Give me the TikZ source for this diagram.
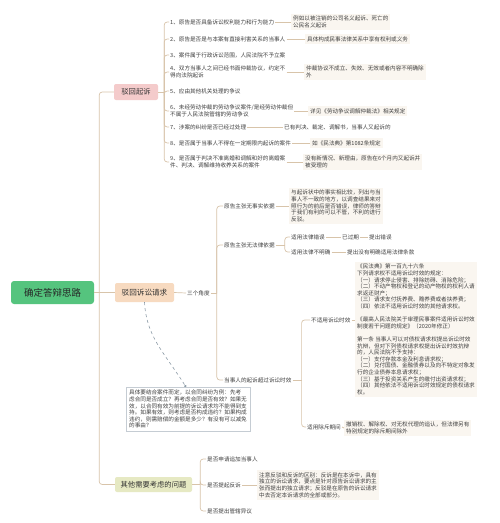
\documentclass[tikz,border=0pt]{standalone}
\usepackage{fontspec}
\setmainfont{Noto Sans CJK SC}
\usetikzlibrary{arrows.meta}
\definecolor{ln}{HTML}{D8C4AA}
\definecolor{txtc}{HTML}{404040}
\definecolor{detf}{HTML}{FAF6F0}
\definecolor{rootg}{HTML}{55C47E}
\definecolor{pinkf}{HTML}{F4CBCB}
\definecolor{peachf}{HTML}{F7DAC0}
\definecolor{olivef}{HTML}{E6E9C3}
\definecolor{notel}{HTML}{C5CCD3}
\definecolor{dashc}{HTML}{8C9BA6}
\begin{document}
\begin{tikzpicture}[x=1pt,y=-1pt,
 base/.style={inner sep=1pt, font=\fontsize{5.6}{6.6}\selectfont, text=txtc, align=left, anchor=west},
 det/.style={base, fill=detf, inner sep=2pt},
 conn/.style={draw=ln, line width=0.7pt, rounded corners=3pt},
 mainbox/.style={rounded corners=2pt, inner xsep=3pt, inner ysep=0pt, font=\fontsize{7.3}{8}\selectfont, text=black!80, minimum height=16pt}]
\useasboundingbox (0,0) rectangle (500,523);
\fill[white] (0,0) rectangle (500,523);

% main nodes
\node[rounded corners=3pt, fill=rootg, minimum width=83pt, minimum height=23pt, font=\fontsize{9.5}{10}\selectfont, text=black!85] (root) at (52.5,292.5) {确定答辩思路};
\node[mainbox, fill=pinkf, minimum width=44pt] (b1) at (136,92) {驳回起诉};
\node[mainbox, fill=peachf, minimum width=59pt, minimum height=19pt, font=\fontsize{7.6}{8}\selectfont] (b2) at (144.5,292.5) {驳回诉讼请求};
\node[mainbox, fill=olivef, minimum width=77pt, minimum height=15pt] (b3) at (153.5,484.5) {其他需要考虑的问题};

\draw[conn] (root.east) -- (b2.west);
\draw[conn] ([xshift=5pt]root.east) |- (b1.west);
\draw[conn] ([xshift=5pt]root.east) |- (b3.west);

% branch 1
\node[base] (i1) at (169,22) {1、原告是否具备诉讼权利能力和行为能力};
\node[base] (i2) at (169,39) {2、原告是否是与本案有直接利害关系的当事人};
\node[base] (i3) at (169,55) {3、案件属于行政诉讼范围，人民法院不予立案};
\node[base] (i4) at (169,72) {4、双方当事人之间已经书面仲裁协议，约定不\\得向法院起诉};
\node[base] (i5) at (169,91) {5、应由其他机关处理的争议};
\node[base] (i6) at (169,111) {6、未经劳动仲裁的劳动争议案件/是经劳动仲裁但\\不属于人民法院管辖的劳动争议};
\node[base] (i7) at (169,127) {7、涉案的纠纷是否已经过处理};
\node[base] (i8) at (169,143) {8、是否属于当事人不得在一定期限内起诉的案件};
\node[base] (i9) at (169,162) {9、是否属于判决不准离婚和调解和好的离婚案\\件、判决、调解维持收养关系的案件};
\draw[conn] (b1.east) -- ([xshift=6pt]b1.east);
\foreach \i in {1,...,9} \draw[conn] ([xshift=6pt]b1.east) |- (i\i.west);

\node[det] (r1) at (291,22) {例如以被注销的公司名义起诉、死亡的\\公民名义起诉};
\node[det] (r2) at (305,39) {具体构成民事法律关系中享有权利或义务};
\node[det] (r4) at (304,72) {仲裁协议不成立、失效、无效或者内容不明确除\\外};
\node[det] (r6) at (308,111) {详见《劳动争议调解仲裁法》相关规定};
\node[base] (r7) at (283,127) {已有判决、裁定、调解书，当事人又起诉的};
\node[det] (r8) at (310,143) {如《民法典》第1082条规定};
\node[det] (r9) at (303,162) {没有新情况、新理由，原告在6个月内又起诉并\\被受理的};
\foreach \i in {1,2,4,6,7,8,9} \draw[conn] (i\i.east) -- (r\i.west);

% branch 2
\node[base] (sa) at (186,293) {三个角度};
\draw[conn] (b2.east) -- (sa.west);
\node[base] (A) at (223,206) {原告主张无事实依据};
\node[base] (B) at (223,245) {原告主张无法律依据};
\node[base] (C) at (223,380) {当事人的起诉超过诉讼时效};
\foreach \n in {A,B,C} \draw[conn] ([xshift=6pt]sa.east) |- (\n.west);
\draw[conn] (sa.east) -- ([xshift=6pt]sa.east);

\node[det] (Ad) at (289,206) {与起诉状中的事实相比较，列出与当\\事人不一致的地方，以调查结果来对\\照行为的前后是否错误，律师的答辩\\于我们有利的可以不管，不利的进行\\反驳。};
\draw[conn] (A.east) -- (Ad.west);

\node[base] (B1) at (290,237) {适用法律错误};
\node[base] (B2) at (290,252) {适用法律不明确};
\draw[conn] (B.east) -- ([xshift=9pt]B.east);
\foreach \n in {B1,B2} \draw[conn] ([xshift=9pt]B.east) |- (\n.west);
\node[base] (B1x) at (341,237) {已过期};
\node[base] (B1y) at (368,237) {提出错误};
\node[base] (B2x) at (346,252) {提出没有明确适用法律条款};
\draw[conn] (B1.east) -- (B1x.west);
\draw[conn] (B1x.east) -- (B1y.west);
\draw[conn] (B2.east) -- (B2x.west);

\node[base] (C1) at (310,320) {不适用诉讼时效};
\node[base] (C2) at (306,427) {适用除斥期间};
\draw[conn] (C.east) -- ([xshift=9pt]C.east);
\foreach \n in {C1,C2} \draw[conn] ([xshift=9pt]C.east) |- (\n.west);

\node[det, anchor=north west, font=\fontsize{5.6}{6.6}\selectfont] (big) at (355,262) {《民法典》第一百九十六条\\
下列请求权不适用诉讼时效的规定：\\
（一）请求停止侵害、排除妨碍、消除危险；\\
（二）不动产物权和登记的动产物权的权利人请\\
求返还财产；\\
（三）请求支付抚养费、赡养费或者扶养费；\\
（四）依法不适用诉讼时效的其他请求权。\\[6.6pt]
《最高人民法院关于审理民事案件适用诉讼时效\\
制度若干问题的规定》（2020年修正）\\[6.6pt]
第一条\ 当事人可以对债权请求权提出诉讼时效\\
抗辩，但对下列债权请求权提出诉讼时效抗辩\\
的，人民法院不予支持：\\
（一）支付存款本金及利息请求权；\\
（二）兑付国债、金融债券以及向不特定对象发\\
行的企业债券本息请求权；\\
（三）基于投资关系产生的缴付出资请求权；\\
（四）其他依法不适用诉讼时效规定的债权请求\\
权。};
\draw[conn] (C1.east) -- (C1.east -| big.west);

\node[det] (C2x) at (344,428) {撤销权、解除权、对无权代理的追认，但法律另有\\特别规定的除斥期间除外};
\draw[conn] (C2.east) -- (C2x.west);

% note
\node[base, anchor=north west, draw=notel, fill=white, inner sep=3pt, font=\fontsize{5.6}{6.6}\selectfont] (nt) at (126,387) {具体要结合案件而定，以合同纠纷为例：先考\\虑合同是否成立？再考虑合同是否有效？如果无\\效，以合同有效为前提的诉讼请求均不能得到支\\持。如果有效，则考虑是否构成违约？如果构成\\违约，则需赔偿的金额是多少？有没有可以减免\\的事由？};
\draw[dashc, dashed, line width=0.6pt, -{Circle[length=2.2pt]}] (b2.south) .. controls +(2,35) and +(-22,-35) .. ([xshift=-2pt]nt.north);

% branch 3
\node[base] (D1) at (206,459) {是否申请追加当事人};
\node[base] (D2) at (206,485) {是否提起反诉};
\node[base] (D3) at (206,511) {是否提出管辖异议};
\draw[conn] (b3.east) -- ([xshift=8pt]b3.east);
\foreach \n in {D1,D2,D3} \draw[conn] ([xshift=8pt]b3.east) |- (\n.west);
\node[det] (D2x) at (257,485) {注意反驳和反诉的区别：反诉是在本诉中，具有\\独立的诉讼请求，要点是针对原告诉讼请求的主\\张而提出的独立请求；反驳是在原告的诉讼请求\\中去否定本诉请求的全部或部分。};
\draw[conn] (D2.east) -- (D2x.west);
\end{tikzpicture}
\end{document}
